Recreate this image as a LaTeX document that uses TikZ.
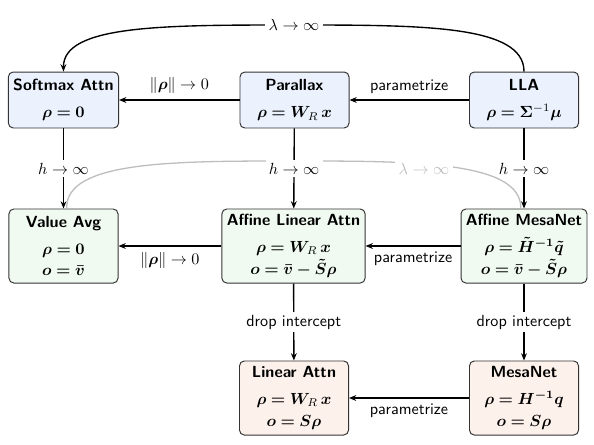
\documentclass[tikz,border=0pt]{standalone}
\usepackage{amsmath,bm}
\usetikzlibrary{arrows.meta}
\definecolor{cblue}{HTML}{EBF2FE}
\definecolor{cgreen}{HTML}{F1FAF1}
\definecolor{cpeach}{HTML}{FDF1EB}
\definecolor{cgray}{HTML}{BDBDBD}
\definecolor{cborder}{HTML}{333333}
\newcommand{\bmeq}{\mathrel{\bm{=}}}
\newcommand{\bmminus}{\mathbin{\bm{-}}}
\begin{document}
\begin{tikzpicture}[x=0.62pt,y=-0.62pt, font=\sffamily,
  nbox/.style={draw=cborder, line width=0.6pt, rounded corners=3pt, align=center, minimum width=67.6pt, inner sep=3pt},
  rowone/.style={nbox, fill=cblue, minimum height=34.7pt},
  rowtwo/.style={nbox, fill=cgreen, minimum height=45.9pt},
  rowthree/.style={nbox, fill=cpeach, minimum height=45.9pt},
  arr/.style={-{Stealth[length=4.5pt,width=3.6pt]}, line width=0.85pt},
  elab/.style={fill=white, inner sep=2pt},
]
\useasboundingbox (0,0) rectangle (594,444);

\node[rowone] (sm) at (63.5,100) {\textbf{Softmax Attn}\\[5pt]$\bm{\rho} \bmeq \bm{0}$};
\node[rowone] (px) at (294.5,100) {\textbf{Parallax}\\[5pt]$\bm{\rho} \bmeq \bm{W}_R\, \bm{x}$};
\node[rowone] (lla) at (524,100) {\textbf{LLA}\\[5pt]$\bm{\rho} \bmeq \bm{\Sigma}^{-1}\bm{\mu}$};
\node[rowtwo] (va) at (63.5,246) {\textbf{Value Avg}\\[4.5pt]$\bm{\rho} \bmeq \bm{0}$\\[1.5pt]$\bm{o} \bmeq \bm{\bar v}$};
\node[rowtwo] (aff) at (293.5,246) {\textbf{Affine Linear Attn}\\[4.5pt]$\bm{\rho} \bmeq \bm{W}_R\, \bm{x}$\\[1.5pt]$\bm{o} \bmeq \bm{\bar v} \bmminus \bm{\tilde S}\bm{\rho}$};
\node[rowtwo] (amn) at (524,246) {\textbf{Affine MesaNet}\\[4.5pt]$\bm{\rho} \bmeq \bm{\tilde H}^{\bm{-1}}\bm{\tilde q}$\\[1.5pt]$\bm{o} \bmeq \bm{\bar v} \bmminus \bm{\tilde S}\bm{\rho}$};
\node[rowthree] (la) at (294,398) {\textbf{Linear Attn}\\[4.5pt]$\bm{\rho} \bmeq \bm{W}_R\, \bm{x}$\\[1.5pt]$\bm{o} \bmeq \bm{S}\bm{\rho}$};
\node[rowthree] (mn) at (524,398) {\textbf{MesaNet}\\[4.5pt]$\bm{\rho} \bmeq \bm{H}^{\bm{-1}}\bm{q}$\\[1.5pt]$\bm{o} \bmeq \bm{S}\bm{\rho}$};

% gray curve
\draw[cgray, line width=0.8pt] ([xshift=-2]amn.north) .. controls (522,161) and (413,161) .. (293,161) .. controls (173,161) and (65,161) .. ([xshift=2]va.north);
\node[elab, text=cgray] (lg) at (424,169) {$\lambda\to\infty$};

% top curve
\draw[arr] (lla.north) .. controls (524,25) and (423,25) .. (293,25) .. controls (163,25) and (63,25) .. (sm.north);
\node[elab] (lt) at (294,25) {$\lambda\to\infty$};

% vertical
\draw[arr] (sm) -- node[elab]{$h\to\infty$} (va);
\draw[arr] (px) -- node[elab]{$h\to\infty$} (aff);
\draw[arr] (lla) -- node[elab]{$h\to\infty$} (amn);
\draw[arr] (aff) -- node[elab]{drop intercept} (la);
\draw[arr] (amn) -- node[elab]{drop intercept} (mn);

% horizontal
\draw[arr] (px) -- node[above]{$\|\bm{\rho}\|\to 0$} (sm);
\draw[arr] (lla) -- node[above]{parametrize} (px);
\draw[arr] (aff) -- node[below]{$\|\bm{\rho}\|\to 0$} (va);
\draw[arr] (amn) -- node[below]{parametrize} (aff);
\draw[arr] (mn) -- node[below]{parametrize} (la);
\end{tikzpicture}
\end{document}
